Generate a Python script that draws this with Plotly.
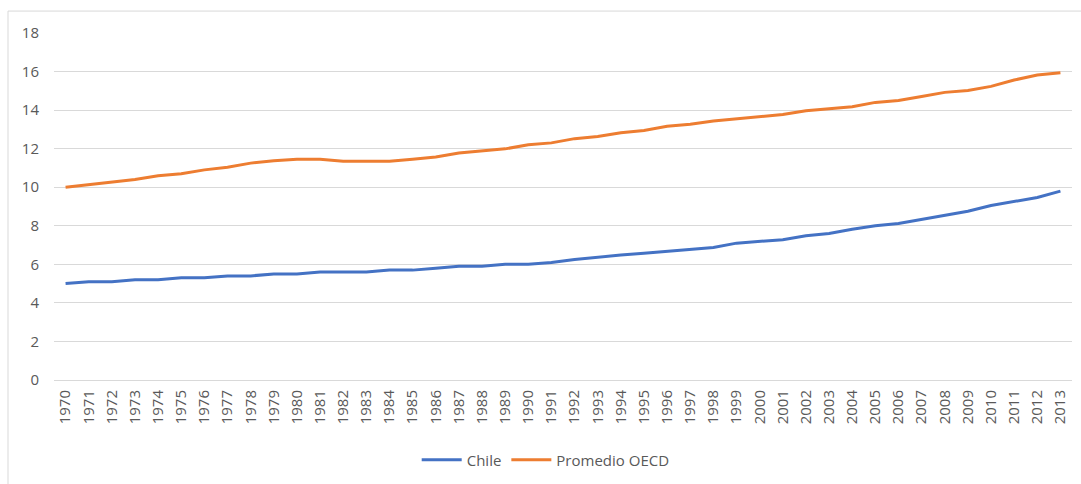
import plotly.graph_objects as go

years = [str(y) for y in range(1970, 2014)]
chile = [5.0, 5.1, 5.1, 5.2, 5.2, 5.3, 5.3, 5.4, 5.4, 5.5, 5.5, 5.6, 5.6, 5.6, 5.7, 5.7,
         5.8, 5.9, 5.9, 6.0, 6.0, 6.1, 6.25, 6.38, 6.48, 6.58, 6.68, 6.8, 6.87, 7.1,
         7.2, 7.28, 7.48, 7.6, 7.82, 8.0, 8.12, 8.33, 8.55, 8.75, 9.05, 9.26, 9.47, 9.8]
oecd = [10.0, 10.13, 10.28, 10.4, 10.6, 10.7, 10.9, 11.04, 11.25, 11.37, 11.45, 11.45,
        11.35, 11.35, 11.35, 11.45, 11.57, 11.78, 11.88, 11.99, 12.2, 12.3, 12.52, 12.63,
        12.83, 12.94, 13.16, 13.27, 13.44, 13.56, 13.67, 13.77, 13.97, 14.07, 14.17, 14.4,
        14.5, 14.71, 14.92, 15.02, 15.23, 15.56, 15.82, 15.94]
y_ticks = [0, 2, 4, 6, 8, 10, 12, 14, 16, 18]

FONT = "Open Sans"
GRAY = "#595959"

fig = go.Figure()
fig.add_trace(go.Scatter(x=years, y=chile, name="Chile", mode="lines",
                         line=dict(color="#4472C4", width=3)))
fig.add_trace(go.Scatter(x=years, y=oecd, name="Promedio OECD", mode="lines",
                         line=dict(color="#ED7D31", width=3)))

fig.update_layout(
    width=1081, height=484,
    margin=dict(l=54, r=9, t=33, b=103),
    paper_bgcolor="white", plot_bgcolor="white",
    font=dict(family=FONT, color=GRAY, size=14),
    showlegend=True,
    legend=dict(orientation="h", x=0.483, xanchor="center", y=-0.227, yanchor="middle",
                font=dict(size=15, color=GRAY), itemwidth=40),
    xaxis=dict(type="category", tickangle=-90, showgrid=False, showline=True,
               range=[-0.5, len(years) - 0.5],
               linecolor="#D9D9D9", linewidth=1, ticks="", tickfont=dict(size=15, color=GRAY),
               ticklabelstandoff=3, fixedrange=True),
    yaxis=dict(range=[0, 18], tickvals=y_ticks, showgrid=True, gridcolor="#D9D9D9",
               gridwidth=1, zeroline=False, ticks="", tickfont=dict(size=15, color=GRAY),
               ticklabelstandoff=14, fixedrange=True),
    shapes=[dict(type="rect", xref="paper", yref="paper",
                 x0=(8 - 54) / 1018, x1=(1090 - 54) / 1018,
                 y0=(381 - 495) / 348, y1=(381 - 11) / 348,
                 line=dict(color="#D9D9D9", width=1), layer="below")],
)

fig.write_html("out.html")
